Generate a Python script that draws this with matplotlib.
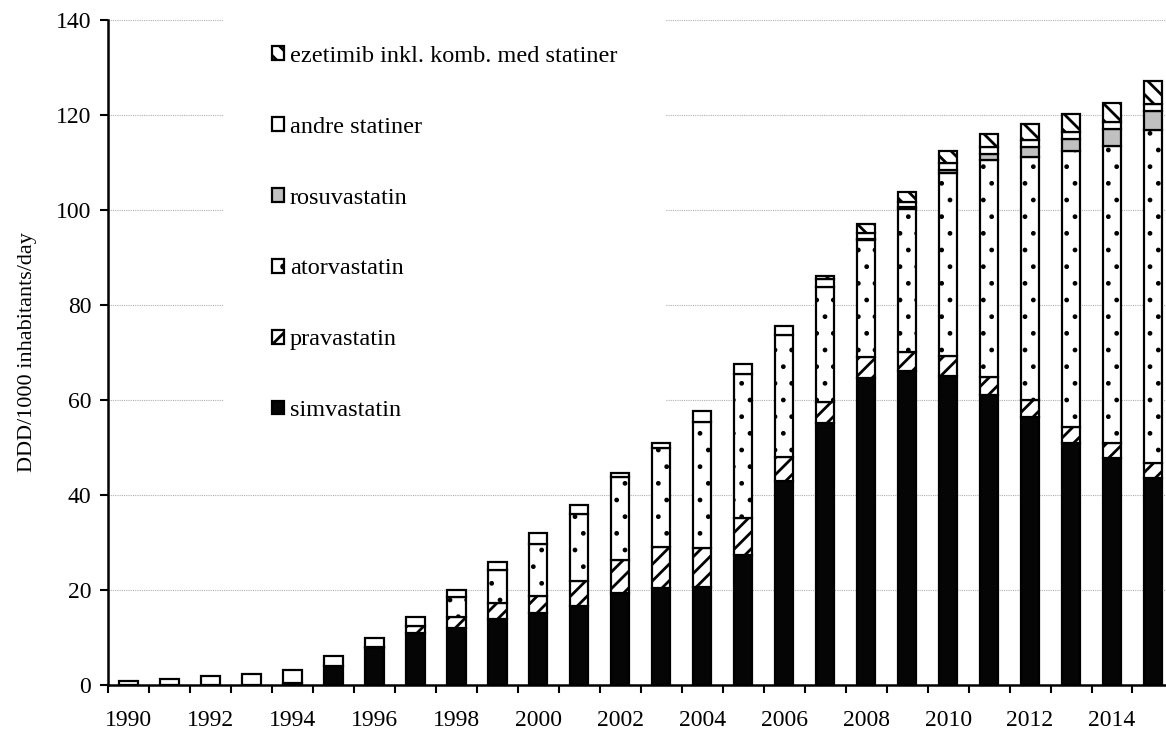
import numpy as np
import matplotlib
matplotlib.use("Agg")
import matplotlib.pyplot as plt

plt.rcParams['font.family'] = ['Liberation Serif', 'DejaVu Serif']
plt.rcParams['hatch.color'] = 'black'
plt.rcParams['hatch.linewidth'] = 2.0

years = list(range(1990, 2016))
simvastatin = [0, 0, 0, 0, 0.4, 4.0, 7.8, 10.9, 12.1, 14.0, 15.1, 16.7, 19.3, 20.4, 20.7, 27.4,
               43.0, 55.2, 64.6, 66.2, 65.1, 61.1, 56.4, 51.0, 47.7, 43.5]
pravastatin = [0, 0, 0, 0, 0, 0, 0.2, 1.6, 2.3, 3.2, 3.6, 5.2, 7.0, 8.6, 8.1, 7.7,
               5.1, 4.3, 4.4, 4.0, 4.2, 3.8, 3.6, 3.4, 3.3, 3.3]
atorvastatin = [0, 0, 0, 0, 0, 0, 0, 0, 4.1, 7.0, 10.9, 14.0, 17.4, 21.0, 26.6, 30.3,
                25.6, 24.4, 24.6, 30.0, 38.4, 45.6, 51.2, 58.0, 62.5, 70.0]
rosuvastatin = [0, 0, 0, 0, 0, 0, 0, 0, 0, 0, 0, 0, 0, 0, 0, 0,
                0, 0, 0.4, 0.5, 0.8, 1.4, 2.0, 2.5, 3.5, 4.1]
andre_statiner = [0.85, 1.3, 1.9, 2.4, 2.7, 2.2, 2.0, 1.9, 1.5, 1.8, 2.5, 2.1, 0.9, 1.0, 2.3, 2.2,
                  1.9, 1.5, 1.1, 1.0, 1.3, 1.3, 1.5, 1.6, 1.6, 1.4]
ezetimib = [0, 0, 0, 0, 0, 0, 0, 0, 0, 0, 0, 0, 0, 0, 0, 0,
            0, 0.8, 1.9, 2.2, 2.6, 2.8, 3.4, 3.8, 4.0, 4.9]

series = [
    ("simvastatin", simvastatin, "#050505", None),
    ("pravastatin", pravastatin, "white", "//"),
    ("atorvastatin", atorvastatin, "white", "."),
    ("rosuvastatin", rosuvastatin, "#c0c0c0", None),
    ("andre statiner", andre_statiner, "white", None),
    ("ezetimib inkl. komb. med statiner", ezetimib, "white", "\\\\"),
]

fig = plt.figure(figsize=(11.66, 7.31), dpi=100)
ax = fig.add_axes([0.0926, 0.0629, 0.9138, 0.9097])

x = np.array(years)
bottom = np.zeros(len(years))
handles = []
for name, vals, color, hatch in series:
    v = np.array(vals, dtype=float)
    m = v > 0
    bars = ax.bar(x[m], v[m], bottom=bottom[m], width=0.45, color=color,
                  edgecolor="black", linewidth=1.6, hatch=hatch, zorder=2)
    if hatch == ".":
        for p in bars:
            if hasattr(p, "set_hatch_linewidth"):
                p.set_hatch_linewidth(1.0)
    handles.append(bars)
    bottom += v

ax.set_xlim(1989.5, 2015.5)
ax.set_ylim(0, 140)
ax.set_yticks(np.arange(0, 141, 20))
ax.set_xticks(years[::2])
ax.set_xticks(np.arange(1989.5, 2016, 1), minor=True)
ax.tick_params(axis='x', which='major', length=0, pad=18, labelsize=17)
ax.tick_params(axis='x', which='minor', length=6, width=1.5, direction='out')
ax.tick_params(axis='y', length=6, width=1.5, pad=6, labelsize=17)

for s in ['top', 'right']:
    ax.spines[s].set_visible(False)
for s in ['left', 'bottom']:
    ax.spines[s].set_linewidth(1.8)
    ax.spines[s].set_zorder(3)

ax.yaxis.grid(True, linestyle=(0, (1, 1)), color='#b0b0b0', linewidth=0.8, zorder=0.5)
ax.set_axisbelow(True)

ax.set_ylabel("DDD/1000 inhabitants/day", fontsize=16)
ax.yaxis.set_label_coords(-0.067, 0.5)

labels = [s[0] for s in series]
leg = ax.legend(handles[::-1], labels[::-1], loc='center left',
                bbox_to_anchor=(0.0967, 0.679), fontsize=17.5,
                frameon=True, facecolor='white', edgecolor='none', framealpha=1,
                fancybox=False, borderpad=2.0, labelspacing=2.05,
                handlelength=0.5, handleheight=0.5, handletextpad=0.25)
leg.set_zorder(1.5)

fig.savefig("out.png", dpi=100)
